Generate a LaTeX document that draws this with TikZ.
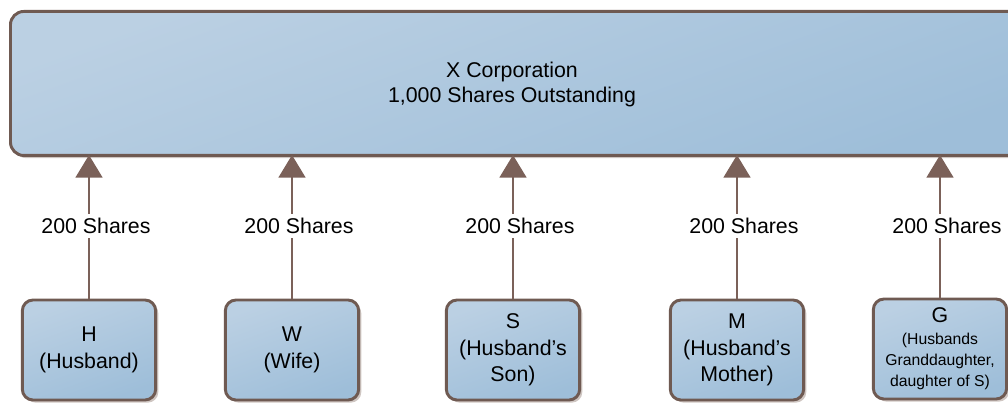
\documentclass[tikz,border=0pt]{standalone}
\usepackage{fontspec}
\setmainfont{Liberation Sans}
\usetikzlibrary{arrows.meta,shadows}
\definecolor{edgebrown}{HTML}{6F5A52}
\definecolor{arrowbrown}{HTML}{7B6159}
\definecolor{boxtop}{HTML}{BBD0E3}
\definecolor{boxbot}{HTML}{9EBED9}
\definecolor{shadowc}{HTML}{CFC6C2}
\tikzset{
  x=0.75pt, y=-0.75pt,
  corpbox/.style={draw=edgebrown, line width=2.2pt, rounded corners=10pt,
    top color=boxtop, bottom color=boxbot, shading angle=20,
    drop shadow={shadow xshift=2pt, shadow yshift=-2pt, fill=shadowc, opacity=1},
    align=center, inner sep=0pt},
  holder/.style={corpbox, minimum width=100pt, minimum height=75pt, rounded corners=8pt,
    font=\fontsize{16pt}{20pt}\selectfont},
  share/.style={draw=arrowbrown, line width=2.2pt, -{Triangle[length=17pt,width=20pt]}},
  sharelbl/.style={fill=white, font=\fontsize{16pt}{19pt}\selectfont, inner sep=3pt}
}
\begin{document}
\begin{tikzpicture}
\useasboundingbox (0,0) rectangle (1008,403);
\begin{scope}
\clip (0,0) rectangle (1008,403);
\node[corpbox, minimum width=1020*0.75pt, minimum height=144*0.75pt, anchor=north west] (X) at (9,10) {};
\end{scope}
\node[font=\fontsize{16pt}{18.75pt}\selectfont, align=center] (Xt) at (512,84) {X Corporation\\1,000 Shares Outstanding};
\node[holder] (H) at (89,350) {H\\(Husband)};
\node[holder] (W) at (292,350) {W\\(Wife)};
\node[holder] (S) at (513,350) {S\\(Husband’s\\Son)};
\node[holder] (M) at (737,350) {M\\(Husband’s\\Mother)};
\node[holder, font=\fontsize{11.8pt}{16pt}\selectfont] (G) at (940,349) {{\fontsize{16pt}{16pt}\selectfont G}\\(Husbands\\Granddaughter,\\daughter of S)};
\foreach \n/\xx in {H/89,W/292,S/513,M/737,G/940}{
  \coordinate (top\n) at (\xx,155);
  \draw[share] (\n.north) -- (top\n);
  \node[sharelbl] (L\n) at (\xx+7,226) {200 Shares};
}
\end{tikzpicture}
\end{document}
